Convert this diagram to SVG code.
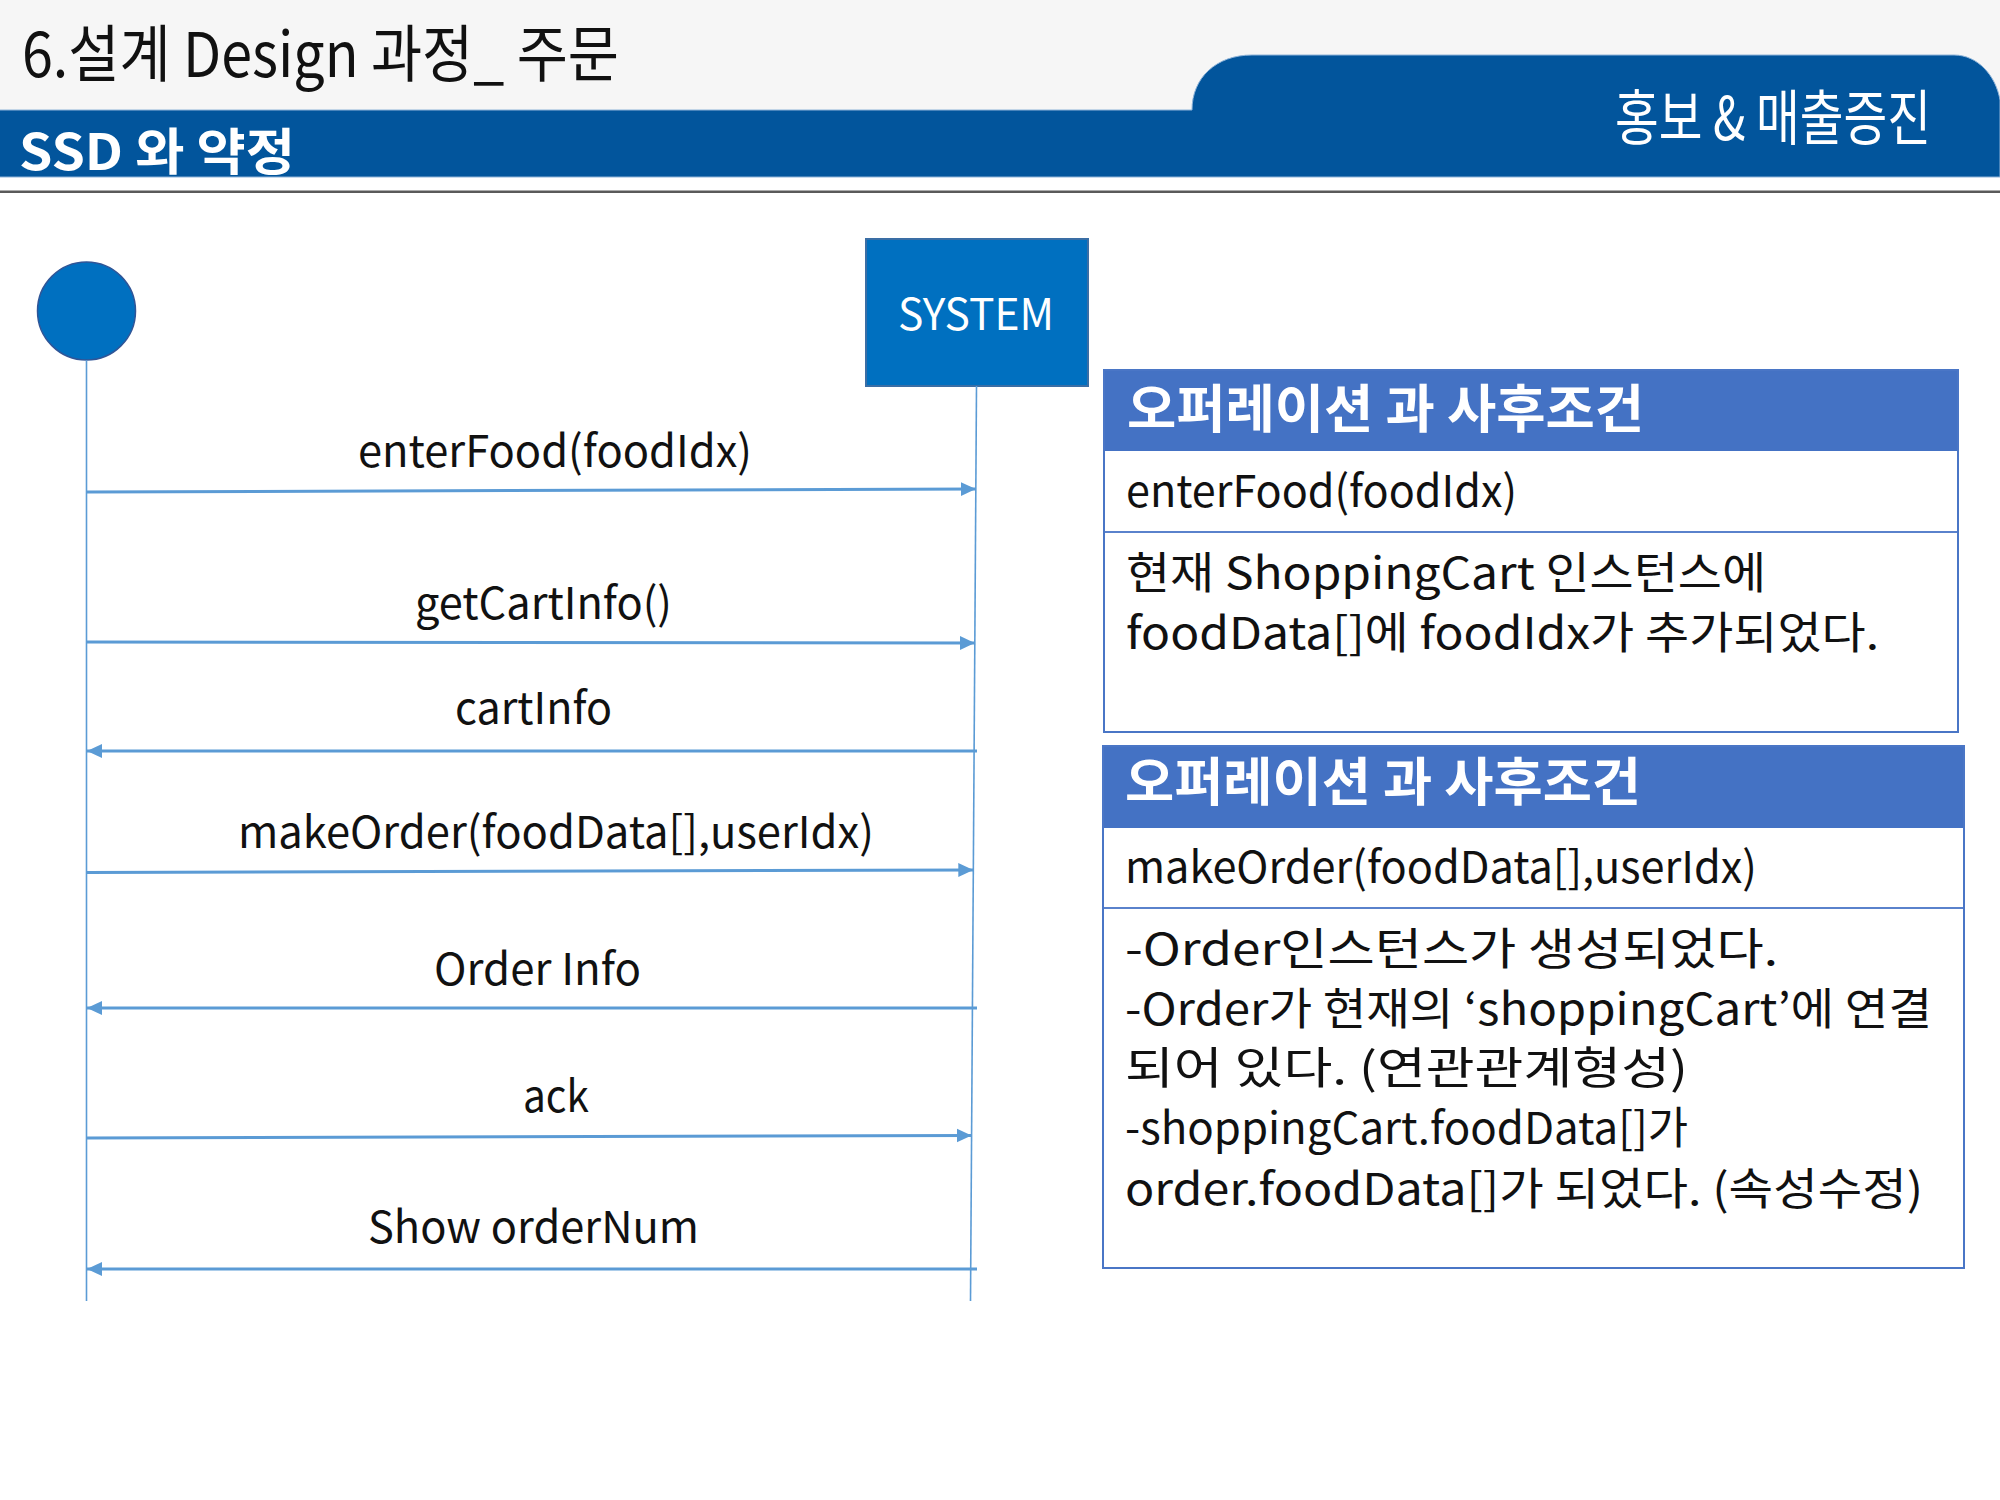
<svg xmlns="http://www.w3.org/2000/svg" width="2000" height="1500" viewBox="0 0 2000 1500">
  <style>
    text { font-family: "Noto Sans CJK KR", "Noto Sans", sans-serif; }
    .title { font-size: 62px; fill: #111; }
    .band-text { font-size: 50px; font-weight: 700; fill: #fff; }
    .tab-text { font-size: 60px; fill: #fff; }
    .msg { font-size: 44px; fill: #111; }
    .lifeline { stroke: #5B9BD5; stroke-width: 1.6; fill: none; }
    .arrow { stroke: #5B9BD5; stroke-width: 3; fill: none; marker-end: url(#head); }
    .tbl-border { fill: none; stroke: #4A76C6; stroke-width: 2; }
    .tbl-sep { stroke: #5A82CC; stroke-width: 2; }
    .tbl-head { fill: #4472C4; }
    .tbl-title { font-size: 52px; font-weight: 700; fill: #fff; }
    .tbl-text { font-size: 44px; fill: #111; }
  </style>
  <defs>
    <marker id="head" markerUnits="userSpaceOnUse" markerWidth="16" markerHeight="16" viewBox="0 0 16 16" refX="15" refY="8" orient="auto">
      <path d="M0,1 L15,8 L0,15 Z" fill="#5B9BD5"/>
    </marker>
  </defs>

  <rect x="0" y="0" width="2000" height="1500" fill="#fff"/>

  <!-- page header: gray strip above a blue band with a raised tab on the right -->
  <g id="header">
    <path d="M0,0 H2000 V100 C1996,76 1978,55 1954,55 H1252 C1216,55 1192,78 1192,110 H0 Z" fill="#F6F6F6"/>
    <path d="M-2,110 L1192,110 C1192,78 1216,55 1252,55 L1954,55 C1978,55 1996,76 2000,100 L2000,177 L-2,177 Z" fill="#02559C" stroke="#8FB4D9" stroke-width="1"/>
    <rect x="0" y="190.5" width="2000" height="2.5" fill="#5A5A5A"/>
    <text class="title" x="22" y="77" textLength="597" lengthAdjust="spacingAndGlyphs">6.설계 Design 과정_ 주문</text>
    <text class="band-text" x="19" y="170" textLength="276" lengthAdjust="spacingAndGlyphs">SSD 와 약정</text>
    <!-- narrow tab caption: horizontal squeeze -->
    <text class="tab-text" transform="translate(1615,140) scale(0.8,1)" x="0" y="0" textLength="395" lengthAdjust="spacingAndGlyphs">홍보 &amp; 매출증진</text>
  </g>

  <!-- actor -->
  <g id="actor">
    <circle cx="86.5" cy="311" r="49" fill="#0070C0" stroke="#2F5597" stroke-width="1.5"/>
    <line class="lifeline" x1="86.5" y1="360" x2="86.5" y2="1301"/>
  </g>

  <!-- system -->
  <g id="system">
    <rect x="866" y="239" width="222" height="147" fill="#0070C0" stroke="#3A6EA5" stroke-width="2"/>
    <text x="898" y="330" font-size="43" fill="#fff" textLength="156" lengthAdjust="spacingAndGlyphs">SYSTEM</text>
    <line class="lifeline" x1="976.5" y1="386" x2="970.5" y2="1301"/>
  </g>

  <!-- messages -->
  <g id="connectors">
    <line class="arrow" x1="87" y1="492" x2="975.8" y2="489"/>
    <line class="arrow" x1="87" y1="642" x2="974.8" y2="643"/>
    <line class="arrow" x1="977" y1="751" x2="87" y2="751"/>
    <line class="arrow" x1="87" y1="872.5" x2="973.3" y2="870"/>
    <line class="arrow" x1="977" y1="1008" x2="87" y2="1008"/>
    <line class="arrow" x1="87" y1="1138" x2="971.6" y2="1135.5"/>
    <line class="arrow" x1="977" y1="1269" x2="87" y2="1269"/>
  </g>

  <g id="labels">
    <text class="msg" x="358" y="467" textLength="394" lengthAdjust="spacingAndGlyphs">enterFood(foodIdx)</text>
    <text class="msg" x="415" y="619" textLength="257" lengthAdjust="spacingAndGlyphs">getCartInfo()</text>
    <text class="msg" x="455" y="724" textLength="157" lengthAdjust="spacingAndGlyphs">cartInfo</text>
    <text class="msg" x="238" y="848" textLength="636" lengthAdjust="spacingAndGlyphs">makeOrder(foodData[],userIdx)</text>
    <text class="msg" x="434" y="985" textLength="207" lengthAdjust="spacingAndGlyphs">Order Info</text>
    <text class="msg" x="523" y="1112" textLength="66" lengthAdjust="spacingAndGlyphs">ack</text>
    <text class="msg" x="368" y="1243" textLength="331" lengthAdjust="spacingAndGlyphs">Show orderNum</text>
  </g>

  <!-- operation contract: enterFood -->
  <g id="contract-enterFood">
    <rect class="tbl-head" x="1104" y="370" width="854" height="81"/>
    <line class="tbl-sep" x1="1104" y1="532" x2="1958" y2="532"/>
    <rect class="tbl-border" x="1104" y="370" width="854" height="362"/>
    <text class="tbl-title" x="1127" y="428" textLength="517" lengthAdjust="spacingAndGlyphs">오퍼레이션 과 사후조건</text>
    <text class="tbl-text" x="1126" y="507" textLength="391" lengthAdjust="spacingAndGlyphs">enterFood(foodIdx)</text>
    <text class="tbl-text" x="1126" y="589" textLength="640" lengthAdjust="spacingAndGlyphs">현재 ShoppingCart 인스턴스에</text>
    <text class="tbl-text" x="1126" y="649" textLength="753" lengthAdjust="spacingAndGlyphs">foodData[]에 foodIdx가 추가되었다.</text>
  </g>

  <!-- operation contract: makeOrder -->
  <g id="contract-makeOrder">
    <rect class="tbl-head" x="1103" y="746" width="861" height="82"/>
    <line class="tbl-sep" x1="1103" y1="908" x2="1964" y2="908"/>
    <rect class="tbl-border" x="1103" y="746" width="861" height="522"/>
    <text class="tbl-title" x="1125" y="801" textLength="516" lengthAdjust="spacingAndGlyphs">오퍼레이션 과 사후조건</text>
    <text class="tbl-text" x="1125" y="883" textLength="632" lengthAdjust="spacingAndGlyphs">makeOrder(foodData[],userIdx)</text>
    <text class="tbl-text" x="1125" y="965" textLength="653" lengthAdjust="spacingAndGlyphs">-Order인스턴스가 생성되었다.</text>
    <text class="tbl-text" x="1125" y="1025" textLength="807" lengthAdjust="spacingAndGlyphs">-Order가 현재의 ‘shoppingCart’에 연결</text>
    <text class="tbl-text" x="1125" y="1084" textLength="563" lengthAdjust="spacingAndGlyphs">되어 있다. (연관관계형성)</text>
    <text class="tbl-text" x="1125" y="1144" textLength="563" lengthAdjust="spacingAndGlyphs">-shoppingCart.foodData[]가</text>
    <text class="tbl-text" x="1125" y="1205" textLength="798" lengthAdjust="spacingAndGlyphs">order.foodData[]가 되었다. (속성수정)</text>
  </g>
</svg>
